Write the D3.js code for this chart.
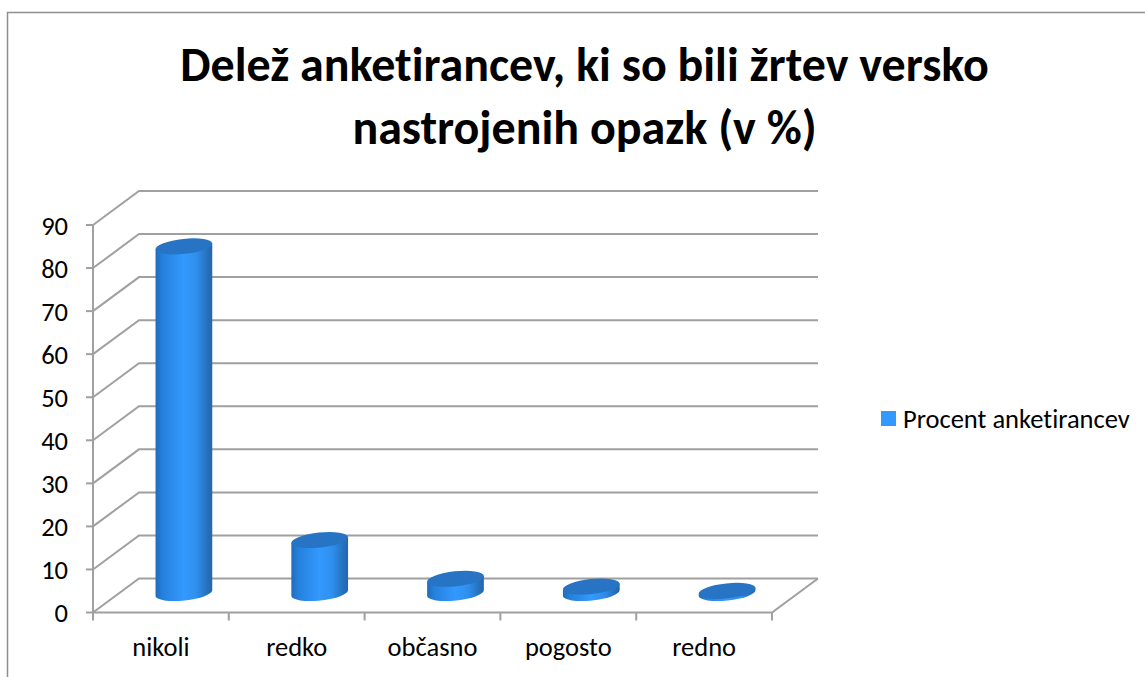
<!DOCTYPE html>
<html><head><meta charset="utf-8">
<script src="https://cdn.jsdelivr.net/npm/d3@7"></script>
<style>html,body{margin:0;padding:0;background:#fff}svg{display:block}text{font-family:Carlito,Lato,sans-serif;font-variant-ligatures:none}</style>
</head><body><div id="c"></div>
<script>
const categories = ["nikoli","redko","občasno","pogosto","redno"];
const values = [80.5,12.3,3.3,1.5,0.5];
const yTicks = [0,10,20,30,40,50,60,70,80,90];
const titleLines = ["Delež anketirancev, ki so bili žrtev versko","nastrojenih opazk (v %)"];
const seriesName = "Procent anketirancev";

const W=1145,H=677;
const svg=d3.select("#c").append("svg").attr("width",W).attr("height",H);
const defs=svg.append("defs");
const g=defs.append("linearGradient").attr("id","cyl").attr("x1",0).attr("x2",1).attr("y1",0).attr("y2",0);
[[0,"#1f6cba"],[0.12,"#2580dc"],[0.5,"#3399ff"],[0.72,"#2f8fee"],[0.92,"#2670bb"],[1,"#2566a8"]].forEach(s=>g.append("stop").attr("offset",s[0]).attr("stop-color",s[1]));

const x=d3.scaleBand().domain(categories).range([93,772]);
const y=d3.scaleLinear().domain([0,90]).range([612.5,225]);
const dx=46,dy=-34;
const grid="#a0a0a0";

// frame
svg.append("path").attr("d",`M7.5,677V12.5H${W}`).attr("fill","none").attr("stroke","#8f8f8f").attr("stroke-width",1.5);

// title
svg.selectAll("text.t").data(titleLines).join("text").attr("class","t")
 .attr("x",584.5).attr("y",(d,i)=>(i?144:81)).attr("text-anchor","middle")
 .attr("font-size",48).attr("font-weight",700).attr("fill","#000").text(d=>d);

// walls
const gl=svg.append("g").attr("fill","none").attr("stroke",grid).attr("stroke-width",2);
yTicks.forEach(t=>{
  gl.append("path").attr("d",`M${x.range()[0]},${y(t)}L${x.range()[0]+dx},${y(t)+dy}H${x.range()[1]+dx}`);
  gl.append("path").attr("d",`M${x.range()[0]-7},${y(t)}H${x.range()[0]}`);
});
gl.append("path").attr("d",`M${x.range()[0]},${y(90)}V${y(0)}H${x.range()[1]}L${x.range()[1]+dx},${y(0)+dy}`);
[x.range()[0],...categories.map(c=>x(c)+x.bandwidth())].forEach(px=>gl.append("path").attr("d",`M${px},${y(0)}v8`));

// tick labels
svg.selectAll("text.y").data(yTicks).join("text").attr("class","y")
 .attr("x",68).attr("y",t=>y(t)+9.5).attr("text-anchor","end").attr("font-size",26.5).attr("fill","#000").text(t=>t);
svg.selectAll("text.x").data(categories).join("text").attr("class","x")
 .attr("x",c=>x(c)+x.bandwidth()/2).attr("y",656).attr("text-anchor","middle").attr("font-size",26.5).attr("fill","#000").text(c=>c);

// cylinders
const rx=x.bandwidth()*0.21, ry=7.5, rot=-6;
const baseOff=-19.5;
categories.forEach((c,i)=>{
  const cx=x(c)+x.bandwidth()/2+dx/2;
  const by=y(0)+baseOff, ty=by-(y(0)-y(values[i]));
  const a=rot*Math.PI/180;
  const ex=rx*Math.cos(a), ey=rx*Math.sin(a);
  svg.append("path").attr("fill","url(#cyl)")
    .attr("d",`M${cx-ex},${ty+ey*-1}L${cx-ex},${by-ey}A${rx},${ry} ${rot} 0 0 ${cx+ex},${by+ey}L${cx+ex},${ty+ey}Z`);
  svg.append("ellipse").attr("cx",cx).attr("cy",ty).attr("rx",rx).attr("ry",ry)
    .attr("transform",`rotate(${rot} ${cx} ${ty})`).attr("fill","#2874c4");
});

// legend
svg.append("rect").attr("x",881).attr("y",411).attr("width",15).attr("height",15).attr("fill","#3399ff");
svg.append("text").attr("x",903).attr("y",428).attr("font-size",26.5).attr("fill","#000").text(seriesName);
</script></body></html>
